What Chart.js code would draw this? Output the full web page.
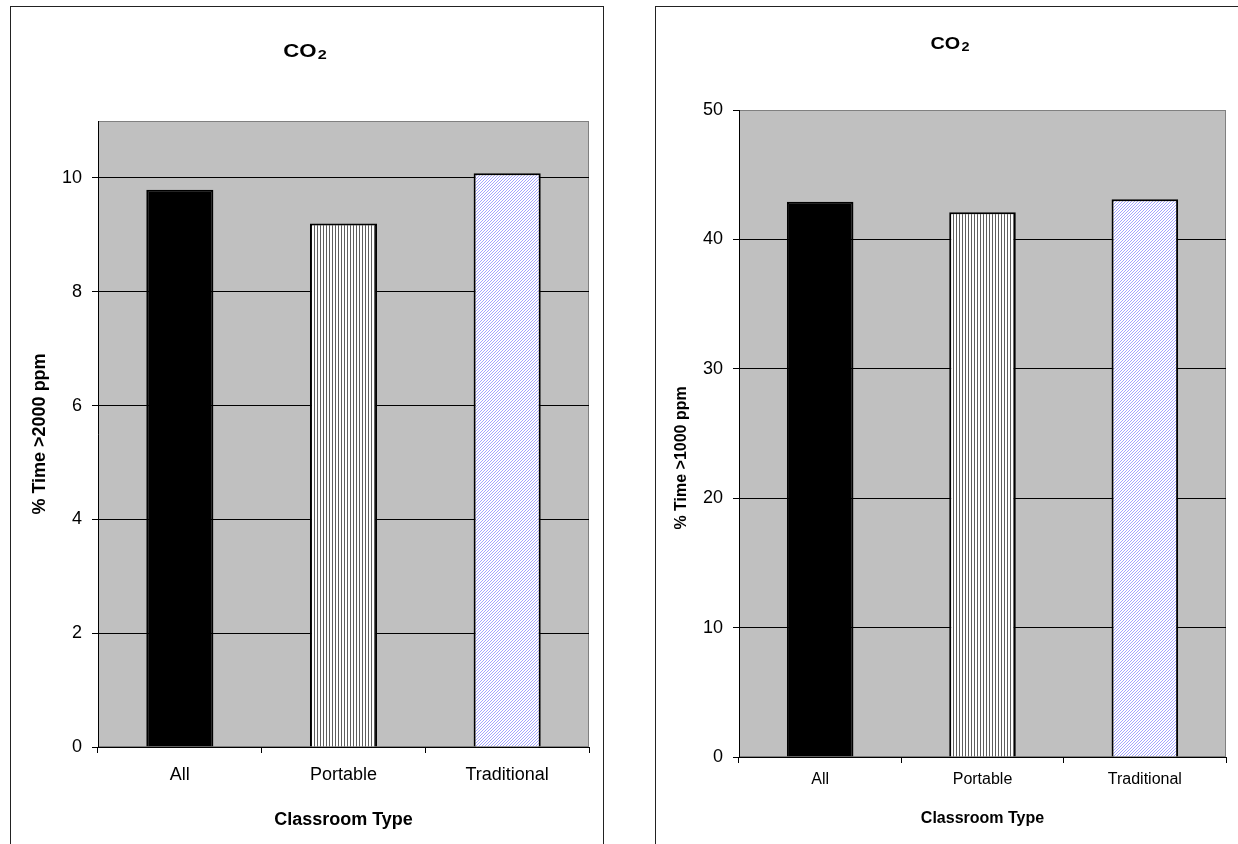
<!DOCTYPE html>
<html>
<head>
<meta charset="utf-8">
<script src="https://cdn.jsdelivr.net/npm/chart.js@4.4.1/dist/chart.umd.min.js"></script>
<style>
	body { margin: 0; background: #fff; overflow: hidden; width: 1238px; height: 844px; }
	.box { position: absolute; top: 6px; width: 592px; height: 850px; border: 1px solid #222; }
	#box-left { left: 10px; }
	#box-right { left: 655px; }
	canvas { display: block; }
</style>
</head>
<body>
<div class="box" id="box-left"><canvas id="co2-2000" width="592" height="850"></canvas></div>
<div class="box" id="box-right"><canvas id="co2-1000" width="592" height="850"></canvas></div>
<script>
const categories = ["All", "Portable", "Traditional"];
const over2000 = [9.79, 9.2, 10.08];
const over1000 = [42.9, 42.1, 43.1];
const ticks2000 = [0, 2, 4, 6, 8, 10];
const ticks1000 = [0, 10, 20, 30, 40, 50];

const FONT = '"Liberation Sans", Arial, sans-serif';
Chart.defaults.font.family = FONT;
Chart.defaults.color = "#000";

function makePattern(w, h, paint) {
	const c = document.createElement("canvas");
	c.width = w;
	c.height = h;
	const p = c.getContext("2d");
	p.fillStyle = "#fff";
	p.fillRect(0, 0, w, h);
	paint(p);
	return p.createPattern(c, "repeat");
}

// vertical stripes (Portable), fine blue diagonal (Traditional)
const stripes = makePattern(3, 1, (p) => {
	p.fillStyle = "#5e5e5e";
	p.fillRect(0, 0, 1, 1);
});
const hatch = makePattern(3, 3, (p) => {
	p.fillStyle = "#a4a4ff";
	for (let x = 0; x < 3; x++)
		for (let y = 0; y < 3; y++)
			if ((x + y) % 3 === 0) p.fillRect(x, y, 1, 1);
});
const fills = ["#000000", stripes, hatch];

const plotArea = {
	id: "plotArea",
	beforeDraw(chart) {
		const { ctx, chartArea: a } = chart;
		ctx.save();
		ctx.fillStyle = "#c0c0c0";
		ctx.fillRect(a.left, a.top, a.width, a.height);
		ctx.strokeStyle = "#808080";
		ctx.lineWidth = 1;
		ctx.strokeRect(a.left + 0.5, a.top + 0.5, a.width - 1, a.height - 1);
		ctx.restore();
	},
};

// "CO" with a real subscript 2, slightly stretched like the original
const co2Title = {
	id: "co2Title",
	afterDraw(chart, args, o) {
		const { ctx } = chart;
		ctx.save();
		ctx.fillStyle = "#000";
		ctx.textBaseline = "alphabetic";
		ctx.font = `bold ${o.size}px ${FONT}`;
		const wMain = ctx.measureText("CO").width;
		ctx.font = `bold ${o.subSize}px ${FONT}`;
		const wSub = ctx.measureText("2").width;
		const total = (wMain + wSub + 1) * o.stretch;
		ctx.translate(chart.width / 2 - 2 - total / 2, o.baseline);
		ctx.scale(o.stretch, 1);
		ctx.font = `bold ${o.size}px ${FONT}`;
		ctx.fillText("CO", 0, 0);
		ctx.font = `bold ${o.subSize}px ${FONT}`;
		ctx.fillText("2", wMain + 1, o.subDrop);
		ctx.restore();
	},
};

function buildChart(id, values, yTicks, o) {
	const yMax = o.yMax;
	return new Chart(document.getElementById(id), {
		type: "bar",
		data: {
			labels: categories,
			datasets: [
				{
					data: values,
					backgroundColor: fills,
					borderColor: "#000",
					borderWidth: 2,
					barPercentage: 0.41,
					categoryPercentage: 1,
				},
			],
		},
		options: {
			responsive: false,
			animation: false,
			devicePixelRatio: 1,
			layout: { padding: { left: 0, right: o.padRight, top: o.padTop, bottom: 0 } },
			plugins: {
				legend: { display: false },
				tooltip: { enabled: false },
				title: { display: false },
				co2Title: o.title,
			},
			scales: {
				x: {
					grid: { drawOnChartArea: false, drawTicks: true, tickLength: 6, offset: true, color: "#000" },
					border: { display: true, color: "#000" },
					ticks: { color: "#000", font: { size: o.catSize }, padding: o.catPad },
					title: {
						display: true,
						text: "Classroom Type",
						color: "#000",
						font: { size: o.xTitleSize, weight: "bold" },
						padding: { top: 0, bottom: o.xTitleBottom },
					},
					afterFit(s) { s.height = o.xHeight; },
				},
				y: {
					min: 0,
					max: yMax,
					afterBuildTicks(s) { s.ticks = yTicks.map((v) => ({ value: v })); },
					grid: {
						color: (c) => (c.tick && c.tick.value === yMax ? "#808080" : "#000"),
						tickColor: "#000",
						tickLength: 6,
					},
					border: { display: true, color: "#000" },
					ticks: { color: "#000", font: { size: 18 }, padding: 10 },
					title: {
						display: true,
						text: o.yTitle,
						color: "#000",
						font: { size: o.yTitleSize, weight: "bold" },
						padding: { top: o.yTitleLeft, bottom: 0 },
					},
					afterFit(s) { s.width = o.yWidth; },
				},
			},
		},
		plugins: [plotArea, co2Title],
	});
}

buildChart("co2-2000", over2000, ticks2000, {
	padRight: 14, padTop: 114,
	title: { size: 18.5, subSize: 13.5, stretch: 1.2, baseline: 50, subDrop: 2 },
	catSize: 18, catPad: 11.2,
	xTitleSize: 18, xTitleBottom: 26.2, xHeight: 110,
	yMax: 11, yTitle: "% Time >2000 ppm", yTitleSize: 18, yTitleLeft: 18.2, yWidth: 87,
});

buildChart("co2-1000", over1000, ticks1000, {
	padRight: 22, padTop: 103,
	title: { size: 16.5, subSize: 12, stretch: 1.2, baseline: 41.5, subDrop: 2.5 },
	catSize: 16, catPad: 7.4,
	xTitleSize: 16, xTitleBottom: 28.4, xHeight: 100,
	yMax: 50, yTitle: "% Time >1000 ppm" + "\u00a0".repeat(11), yTitleSize: 16, yTitleLeft: 16.4, yWidth: 83,
});
</script>
</body>
</html>
